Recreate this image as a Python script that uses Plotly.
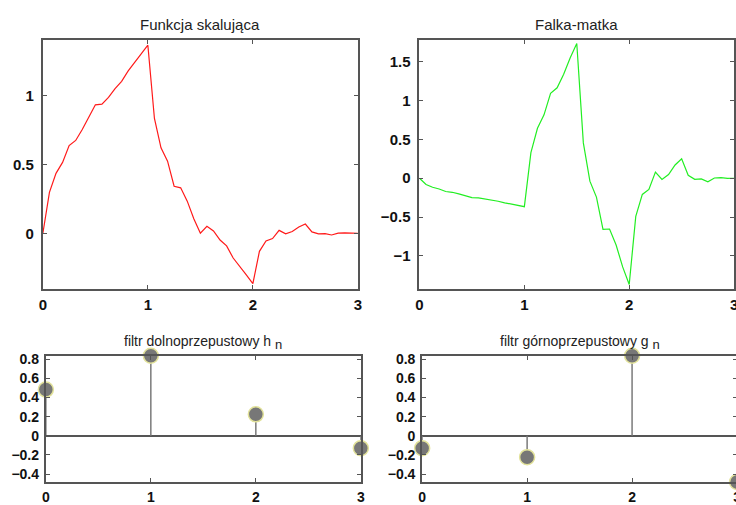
import plotly.graph_objects as go

# ---- data ----
x_fine = [k / 16 for k in range(49)]
phi = [0, 0.2973, 0.4353, 0.5149, 0.6373, 0.6742, 0.7539, 0.8492, 0.9330,
       0.9387, 0.9871, 1.0512, 1.1038, 1.1792, 1.2433, 1.3031, 1.3660,
       0.8340, 0.6205, 0.5237, 0.3415, 0.3301, 0.2333, 0.1052, 0.0,
       0.0511, 0.0167, -0.0488, -0.0915, -0.1799, -0.2455, -0.3027, -0.3660,
       -0.1312, -0.0558, -0.0386, 0.0212, -0.0043, 0.0129, 0.0456, 0.0670,
       0.0102, -0.0039, -0.0024, -0.0123, 0.0007, 0.0022, -0.0004, 0.0]
psi = [0, -0.0797, -0.1166, -0.1380, -0.1708, -0.1807, -0.2020, -0.2275, -0.2500,
       -0.2515, -0.2645, -0.2817, -0.2958, -0.3160, -0.3331, -0.3492, -0.3660,
       0.3284, 0.6417, 0.8156, 1.0915, 1.1632, 1.3370, 1.5482, 1.7321,
       0.4545, -0.0380, -0.2430, -0.6585, -0.6532, -0.8583, -1.1403, -1.3660,
       -0.4898, -0.2081, -0.1441, 0.0792, -0.0160, 0.0480, 0.1703, 0.2500,
       0.0381, -0.0145, -0.0088, -0.0458, 0.0027, 0.0084, -0.0015, 0]
n_idx = [0, 1, 2, 3]
h_n = [0.4830, 0.8365, 0.2241, -0.1294]
g_n = [-0.1294, -0.2241, 0.8365, -0.4830]

sub_n = "<sub><span style='font-size:13px'>n</span></sub>"
titles = ["Funkcja skalująca", "Falka-matka",
          "filtr dolnoprzepustowy h " + sub_n, "filtr górnoprzepustowy g " + sub_n]
x_ticks = [0, 1, 2, 3]
y_ticks_phi = [0, 0.5, 1]
y_ticks_psi = [-1, -0.5, 0, 0.5, 1, 1.5]
y_ticks_filt = [-0.4, -0.2, 0, 0.2, 0.4, 0.6, 0.8]

W, H = 745, 505

def px_x(a, b):
    return [a / W, b / W]

def px_y(top, bottom):
    return [1 - bottom / H, 1 - top / H]

fig = go.Figure()

fig.add_trace(go.Scatter(x=x_fine, y=phi, mode="lines", line=dict(color="#ff1a1a", width=1.2),
                         xaxis="x", yaxis="y", showlegend=False))
fig.add_trace(go.Scatter(x=x_fine, y=psi, mode="lines", line=dict(color="#22ee22", width=1.2),
                         xaxis="x2", yaxis="y2", showlegend=False))

def stem(xs, ys, xa, ya):
    sx, sy = [], []
    for a, b in zip(xs, ys):
        sx += [a, a, None]
        sy += [0, b, None]
    fig.add_trace(go.Scatter(x=sx, y=sy, mode="lines", line=dict(color="#7a7a7a", width=1.5),
                             xaxis=xa, yaxis=ya, showlegend=False, cliponaxis=False))
    fig.add_trace(go.Scatter(x=xs, y=ys, mode="markers",
                             marker=dict(size=15, color="#777777", line=dict(color="#e2e29a", width=1.5)),
                             xaxis=xa, yaxis=ya, showlegend=False, cliponaxis=False))

stem(n_idx, h_n, "x3", "y3")
stem(n_idx, g_n, "x4", "y4")

def common(size, standoff):
    return dict(showline=True, linecolor="#555", linewidth=2, mirror="ticks", ticks="inside",
                ticklen=4, tickwidth=1, tickcolor="#555", showgrid=False, zeroline=False,
                ticklabelstandoff=standoff,
                tickfont=dict(family="Liberation Sans, Arial", size=size, color="#111", weight="bold"))

layout = dict(
    width=W, height=H, margin=dict(l=0, r=0, t=0, b=0),
    paper_bgcolor="white", plot_bgcolor="white",
    xaxis=dict(domain=px_x(39.3, 357.7), range=[0, 3], tickvals=x_ticks, anchor="y", **common(15, 1)),
    yaxis=dict(domain=px_y(35, 287.3), range=[-0.404, 1.407], tickvals=y_ticks_phi, anchor="x", **common(15, 4)),
    xaxis2=dict(domain=px_x(420, 738), range=[0, 3], tickvals=x_ticks, anchor="y2", **common(15, 1)),
    yaxis2=dict(domain=px_y(35, 287.3), range=[-1.423, 1.783], tickvals=y_ticks_psi, anchor="x2", **common(15, 4)),
    xaxis3=dict(domain=px_x(42.3, 360.7), range=[0, 3], tickvals=x_ticks, anchor="y3", **common(14, 1)),
    yaxis3=dict(domain=px_y(355, 482.7), range=[-0.483, 0.8365], tickvals=y_ticks_filt, anchor="x3", **common(14, 2)),
    xaxis4=dict(domain=px_x(422.7, 741), range=[0, 3], tickvals=x_ticks, anchor="y4", **common(14, 1)),
    yaxis4=dict(domain=px_y(355, 482.7), range=[-0.483, 0.8365], tickvals=y_ticks_filt, anchor="x4", **common(14, 2)),
)
for k in ("yaxis3", "yaxis4"):
    layout[k]["zeroline"] = True
    layout[k]["zerolinecolor"] = "#555"
    layout[k]["zerolinewidth"] = 1.5
fig.update_layout(**layout)

title_pos = [((39.3 + 357.7) / 2, 20), ((420 + 738) / 2, 20),
             ((42.3 + 360.7) / 2, 342), ((422.7 + 741) / 2, 342)]
title_size = [15, 15, 14, 14]
for t, (cx, cy), s in zip(titles, title_pos, title_size):
    fig.add_annotation(text=t, x=cx / W, y=1 - cy / H, xref="paper", yref="paper",
                       showarrow=False, xanchor="center", yanchor="middle",
                       font=dict(family="Liberation Sans, Arial", size=s, color="#222"))

fig.write_html("out.html", config={"displayModeBar": False},
               post_script="document.body.style.margin='0';document.body.style.overflow='hidden';document.documentElement.style.overflow='hidden';")
